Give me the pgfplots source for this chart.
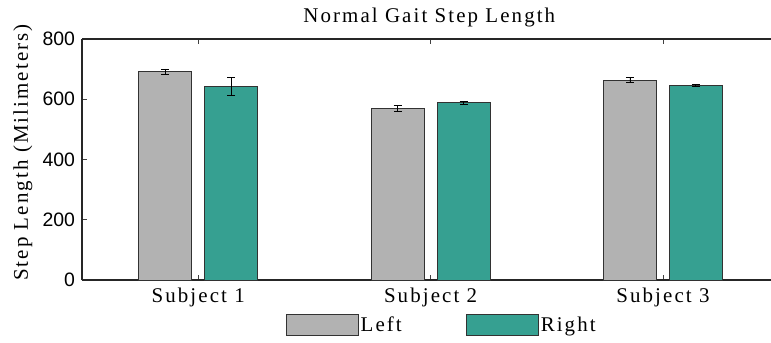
\documentclass[border=0pt]{standalone}
\usepackage{fontspec}
\setmainfont{Liberation Serif}
\newfontfamily\lblfont{Liberation Serif}[LetterSpace=10]
\newfontfamily\tickfont{Liberation Sans}
\usepackage{pgfplots}
\pgfplotsset{compat=1.18}
\definecolor{leftgray}{RGB}{178,178,178}
\definecolor{rightteal}{RGB}{54,160,145}
\definecolor{edge}{RGB}{50,50,50}
\begin{document}
\begin{tikzpicture}
\begin{axis}[
  scale only axis, width=689bp, height=241bp,
  xmin=0.5, xmax=3.465, ymin=0, ymax=800,
  separate axis lines,
  axis x line*=box, axis y line*=left,
  x axis line style={-}, y axis line style={-},
  axis line style={line width=1.1bp, draw=black!85},
  xtick={1,2,3}, xticklabels={Subject 1,Subject 2,Subject 3},
  ytick={0,200,400,600,800},
  tick align=inside, major tick length=5bp,
  tick style={line width=0.8bp, black!75},
  /pgf/number format/assume math mode=true,
  xticklabel style={font=\lblfont\fontsize{21}{23}\selectfont, anchor=base, yshift=-22bp},
  yticklabel style={font=\tickfont\fontsize{19.5}{20}\selectfont, xshift=-3.5bp},
  title={Normal Gait Step Length},
  title style={font=\lblfont\fontsize{21}{23}\selectfont, at={(0.504,1)}, anchor=base, yshift=11bp},
  ylabel={Step Length (Milimeters)},
  ylabel style={font=\lblfont\fontsize{21}{23}\selectfont, at={(axis description cs:-0.0784,0.529)}, anchor=base},
  legend columns=2,
  legend style={draw=none, fill=none, at={(0.522,-0.185)}, anchor=center,
    font=\lblfont\fontsize{21}{23}\selectfont,
    /tikz/every even column/.append style={column sep=62bp},
    nodes={inner sep=2bp}},
]
\addplot[ybar, bar width=0.228, bar shift=0, fill=leftgray, draw=edge, line width=1bp,
  legend image code/.code={\draw[fill=leftgray, draw=edge, line width=1bp] (0bp,-10.5bp) rectangle (72bp,10.5bp);},
  error bars/.cd, y dir=both, y explicit,
  error bar style={line width=0.9bp, black},
  error mark options={rotate=90, mark size=4bp, line width=0.9bp, black}]
  coordinates {(0.858,691) +- (0,9.5) (1.858,569) +- (0,10) (2.858,663) +- (0,8.3)};
\addlegendentry{Left}
\addplot[ybar, bar width=0.228, bar shift=0, fill=rightteal, draw=edge, line width=1bp,
  legend image code/.code={\draw[fill=rightteal, draw=edge, line width=1bp] (0bp,-10.5bp) rectangle (72bp,10.5bp);},
  error bars/.cd, y dir=both, y explicit,
  error bar style={line width=0.9bp, black},
  error mark options={rotate=90, mark size=4bp, line width=0.9bp, black}]
  coordinates {(1.142,642) +- (0,30) (2.142,588) +- (0,6) (3.142,647) +- (0,3)};
\addlegendentry{Right}
\coordinate (o) at (rel axis cs:0,0);
\end{axis}
\pgfresetboundingbox
\path[use as bounding box] (o) ++(-82bp,-63bp) rectangle ++(771bp,343bp);
\end{tikzpicture}
\end{document}
